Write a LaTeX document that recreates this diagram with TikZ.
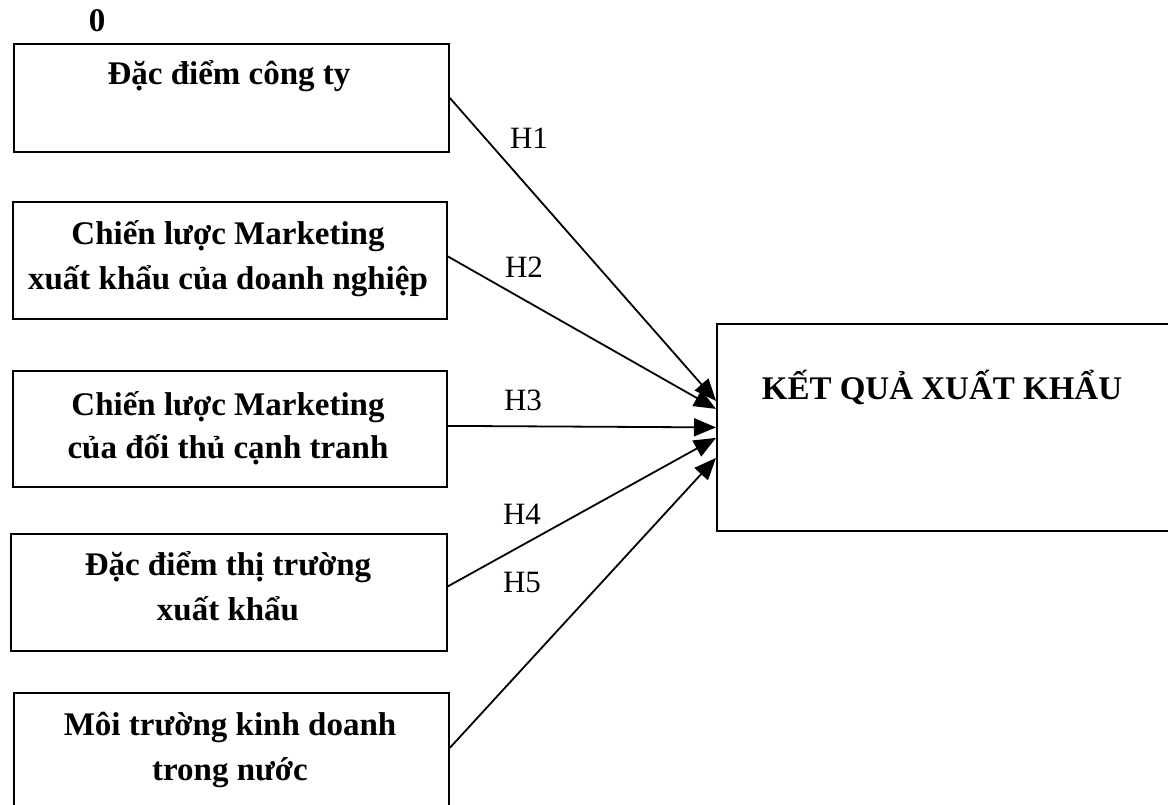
\documentclass[tikz,border=0pt]{standalone}
\usepackage{fontspec}
\setmainfont{Liberation Serif}
\usetikzlibrary{arrows.meta}
\begin{document}
\begin{tikzpicture}[x=1pt,y=-1pt,
  box/.style={draw, line width=1.8pt, inner sep=0pt, anchor=north west},
  lbl/.style={anchor=base, inner sep=0pt, font=\fontsize{33}{38}\selectfont\bfseries},
  hlbl/.style={anchor=base, inner sep=0pt, font=\fontsize{31}{36}\selectfont},
  arr/.style={line width=1.8pt, -{Triangle[length=22pt,width=18pt]}}]
\useasboundingbox (0,0) rectangle (1168,805);
\clip (0,0) rectangle (1168,805);
% boxes
\node[box, minimum width=435pt, minimum height=108pt] (b1) at (13,43) {};
\node[box, minimum width=434pt, minimum height=117pt] (b2) at (12,201) {};
\node[box, minimum width=434pt, minimum height=116pt] (b3) at (12,370) {};
\node[box, minimum width=436pt, minimum height=117pt] (b4) at (10,533) {};
\node[box, minimum width=435pt, minimum height=116pt] (b5) at (13,692) {};
\node[box, minimum width=500pt, minimum height=207pt] (rb) at (716,323) {};
% texts
\node[lbl] (zero) at (97,32) {0};
\node[lbl] (t1) at (229,85) {Đặc điểm công ty};
\node[lbl] (t2a) at (228,245) {Chiến lược Marketing};
\node[lbl] (t2b) at (228,290) {xuất khẩu của doanh nghiệp};
\node[lbl] (t3a) at (228,415) {Chiến lược Marketing};
\node[lbl] (t3b) at (228,458) {của đối thủ cạnh tranh};
\node[lbl] (t4a) at (228,575) {Đặc điểm thị trường};
\node[lbl] (t4b) at (228,620) {xuất khẩu};
\node[lbl] (t5a) at (230,735) {Môi trường kinh doanh};
\node[lbl] (t5b) at (230,780) {trong nước};
\node[lbl] (tr) at (942,399) {KẾT QUẢ XUẤT KHẨU};
% hypothesis labels
\node[hlbl] (h1) at (529,149) {H1};
\node[hlbl] (h2) at (524,278) {H2};
\node[hlbl] (h3) at (523,410) {H3};
\node[hlbl] (h4) at (522,524) {H4};
\node[hlbl] (h5) at (522,592) {H5};
% arrows
\draw[arr] (b1.east) -- ([yshift=26.5pt]rb.west);
\draw[arr] ([yshift=4pt]b2.east) -- ([yshift=18.5pt]rb.west);
\draw[arr] ([yshift=3pt]b3.east) -- (rb.west);
\draw[arr] ([yshift=6pt]b4.east) -- ([yshift=-10.5pt]rb.west);
\draw[arr] ([yshift=3pt]b5.east) -- ([yshift=-30.5pt]rb.west);
\end{tikzpicture}
\end{document}
